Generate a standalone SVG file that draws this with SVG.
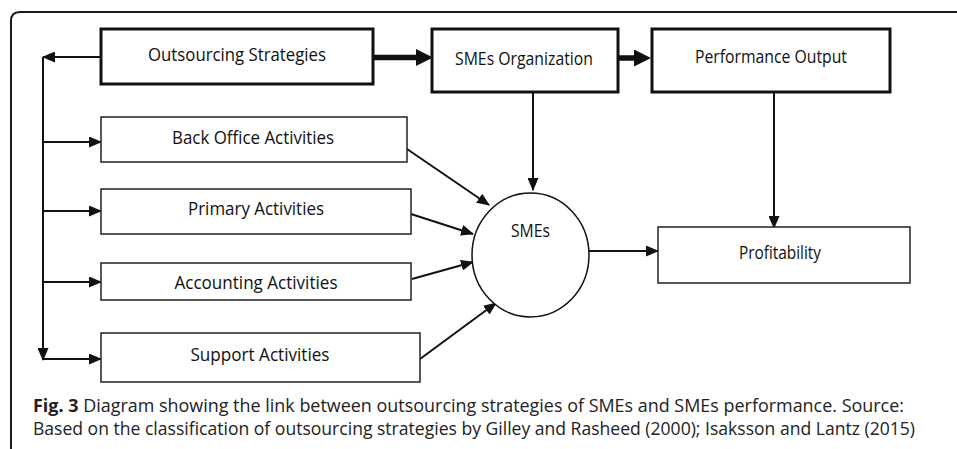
<svg xmlns="http://www.w3.org/2000/svg" width="957" height="449" viewBox="0 0 957 449">
<defs>
<style>
.frame{fill:none;stroke:#1a1a1a;stroke-width:2}
.thick{fill:#fff;stroke:#111;stroke-width:3}
.thin{fill:#fff;stroke:#222;stroke-width:1.5}
.circ{fill:#fff;stroke:#111;stroke-width:1.5}
.lbl{font-family:"Open Sans","Noto Sans",sans-serif;font-size:18px;fill:#111;text-anchor:middle}
.cap{font-family:"Open Sans","Noto Sans",sans-serif;font-size:18px;fill:#222}
.con{fill:none;stroke:#111;stroke-width:2}
.bold{fill:none;stroke:#111;stroke-width:5.5}
</style>
<marker id="ah" markerUnits="userSpaceOnUse" markerWidth="13" markerHeight="11" refX="12" refY="5.5" orient="auto">
<path d="M0,0 L13,5.5 L0,11 z" fill="#111"/>
</marker>
<marker id="big" markerUnits="userSpaceOnUse" markerWidth="17" markerHeight="17" refX="1" refY="8.5" orient="auto">
<path d="M0,0 L17,8.5 L0,17 z" fill="#111"/>
</marker>
</defs>
<path class="frame" d="M11,449 L11,21 Q11,12 20,12 L957,12"/>
<g id="connectors">
<path class="bold" d="M373,57.5 L417,57.5" marker-end="url(#big)"/>
<path class="bold" d="M618,58 L635,58" marker-end="url(#big)"/>
<path class="con" d="M101,57 L43,57" marker-end="url(#ah)"/>
<path class="con" d="M43,57 L43,360" marker-end="url(#ah)"/>
<path class="con" d="M43,142 L101,142" marker-end="url(#ah)"/>
<path class="con" d="M43,211 L101,211" marker-end="url(#ah)"/>
<path class="con" d="M43,282 L101,282" marker-end="url(#ah)"/>
<path class="con" d="M43,359 L101,359" marker-end="url(#ah)"/>
<path class="con" d="M533,92 L533,190" marker-end="url(#ah)"/>
<path class="con" d="M774,92 L774,228" marker-end="url(#ah)"/>
<path class="con" d="M589,251 L658,251" marker-end="url(#ah)"/>
<path class="con" d="M407,149 L489,205" marker-end="url(#ah)"/>
<path class="con" d="M411,214 L473,234" marker-end="url(#ah)"/>
<path class="con" d="M412,279 L473,262" marker-end="url(#ah)"/>
<path class="con" d="M420,359 L496,303" marker-end="url(#ah)"/>
</g>
<g id="outsourcing-strategies">
<rect class="thick" x="101" y="29" width="272" height="55"/>
<text class="lbl" x="237" y="61" textLength="178" lengthAdjust="spacingAndGlyphs">Outsourcing Strategies</text>
</g>
<g id="smes-organization">
<rect class="thick" x="432" y="29" width="186" height="63"/>
<text class="lbl" x="524" y="65" textLength="138" lengthAdjust="spacingAndGlyphs">SMEs Organization</text>
</g>
<g id="performance-output">
<rect class="thick" x="652" y="29" width="238" height="63"/>
<text class="lbl" x="771" y="63" textLength="152" lengthAdjust="spacingAndGlyphs">Performance Output</text>
</g>
<g id="back-office">
<rect class="thin" x="101" y="117" width="306" height="45"/>
<text class="lbl" x="253" y="144" textLength="162" lengthAdjust="spacingAndGlyphs">Back Office Activities</text>
</g>
<g id="primary">
<rect class="thin" x="101" y="189" width="310" height="45"/>
<text class="lbl" x="256" y="215" textLength="136" lengthAdjust="spacingAndGlyphs">Primary Activities</text>
</g>
<g id="accounting">
<rect class="thin" x="101" y="263" width="310" height="37"/>
<text class="lbl" x="256" y="289" textLength="163" lengthAdjust="spacingAndGlyphs">Accounting Activities</text>
</g>
<g id="support">
<rect class="thin" x="101" y="333" width="319" height="49"/>
<text class="lbl" x="260" y="361" textLength="139" lengthAdjust="spacingAndGlyphs">Support Activities</text>
</g>
<g id="smes">
<ellipse class="circ" cx="530.5" cy="255" rx="58.5" ry="62"/>
<text class="lbl" x="530.5" y="237" textLength="39" lengthAdjust="spacingAndGlyphs">SMEs</text>
</g>
<g id="profitability">
<rect class="thin" x="658" y="227" width="252" height="56"/>
<text class="lbl" x="780" y="259" textLength="82" lengthAdjust="spacingAndGlyphs">Profitability</text>
</g>
<g id="caption">
<text class="cap" x="33" y="412" textLength="871" lengthAdjust="spacingAndGlyphs"><tspan font-weight="bold">Fig. 3</tspan> Diagram showing the link between outsourcing strategies of SMEs and SMEs performance. Source:</text>
<text class="cap" x="33" y="435" textLength="882" lengthAdjust="spacingAndGlyphs">Based on the classification of outsourcing strategies by Gilley and Rasheed (2000); Isaksson and Lantz (2015)</text>
</g>
</svg>
